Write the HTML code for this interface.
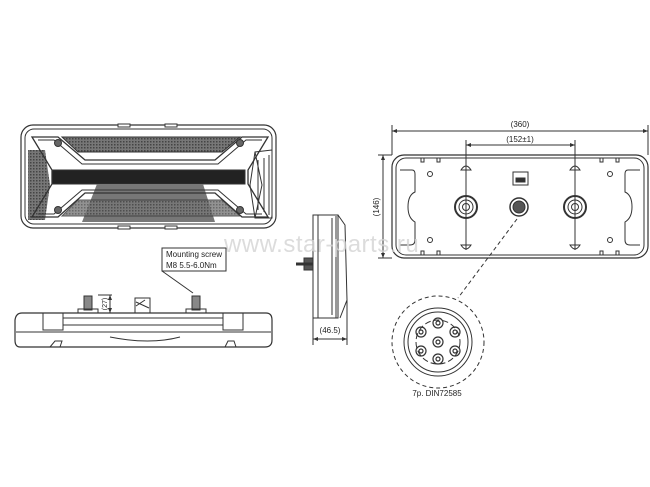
<!DOCTYPE html>
<html><head><meta charset="utf-8"><style>
html,body{margin:0;padding:0;background:#fff;}
svg{display:block;font-family:"Liberation Sans",sans-serif;}
</style></head><body>
<svg width="650" height="487" viewBox="0 0 650 487" xmlns="http://www.w3.org/2000/svg">
<defs>
<pattern id="h" width="3" height="3" patternUnits="userSpaceOnUse"><rect width="3" height="3" fill="#777"/><rect width="1.5" height="1.5" fill="#444"/></pattern>
<marker id="a" markerWidth="6" markerHeight="6" refX="5" refY="3" orient="auto"><path d="M0,1 L5,3 L0,5z" fill="#333"/></marker>
<marker id="b" markerWidth="6" markerHeight="6" refX="1" refY="3" orient="auto"><path d="M6,1 L1,3 L6,5z" fill="#333"/></marker>
</defs>
<g stroke="#333" fill="none" stroke-width="1">
<!-- front view -->
<rect x="21" y="125" width="255" height="103" rx="12" stroke-width="1.2"/>
<rect x="25" y="129" width="247" height="95" rx="9"/>
<rect x="118" y="124" width="12" height="3" fill="#fff"/><rect x="165" y="124" width="12" height="3" fill="#fff"/>
<rect x="118" y="226" width="12" height="3" fill="#fff"/><rect x="165" y="226" width="12" height="3" fill="#fff"/>
<path d="M62,137 L240,137 L222,152 L78,152 Z" fill="url(#h)"/>
<path d="M28,150 L45,150 L50,185 L45,220 L28,220 Z" fill="url(#h)" stroke="none"/>
<path d="M272,150 L255,152 L250,185 L255,218 L272,218 Z" fill="none"/>
<path d="M255,152 L262,185 L255,218 M258,160 L258,210 M264,158 L264,212 M269,155 L269,215"/>
<rect x="52" y="170" width="193" height="14" fill="#222"/>
<path d="M97,184 L203,184 L215,222 L82,222 Z" fill="#777" stroke="none"/>
<path d="M62,216 L240,216 L222,200 L78,200 Z" fill="url(#h)" opacity="0.8"/>
<path d="M32,137 L58,137 L85,160 L215,160 L242,137 L268,137 L248,170 L248,184 L268,217 L242,217 L215,193 L85,193 L58,217 L32,217 L52,184 L52,170 Z" stroke-width="1.3" fill="none"/>
<path d="M38,140 L54,140 L82,164 L218,164 L246,140 L262,140" />
<path d="M38,214 L54,214 L82,190 L218,190 L246,214 L262,214" />
<circle cx="58" cy="143" r="3.5" fill="#666"/><circle cx="240" cy="143" r="3.5" fill="#666"/>
<circle cx="58" cy="210" r="3.5" fill="#666"/><circle cx="240" cy="210" r="3.5" fill="#666"/>
<!-- bottom view -->
<path d="M22,313 L266,313 Q272,313 272,320 L272,340 Q272,347 265,347 L20,347 Q15,347 15,340 L15,320 Q16,313 22,313 Z" stroke-width="1.2"/>
<rect x="43" y="313" width="20" height="17"/><rect x="223" y="313" width="20" height="17"/>
<line x1="63" y1="318" x2="223" y2="318"/><line x1="63" y1="325" x2="223" y2="325"/><line x1="16" y1="332" x2="271" y2="332"/>
<path d="M110,337 Q150,345 180,337"/>
<path d="M50,347 L55,341 L62,341 L60,347 M225,347 L228,341 L234,341 L236,347"/>
<rect x="84" y="296" width="8" height="14" fill="#888"/><path d="M78,313 L78,309 L98,309 L98,313"/>
<rect x="192" y="296" width="8" height="14" fill="#888"/><path d="M186,313 L186,309 L206,309 L206,313"/>
<rect x="135" y="298" width="15" height="15"/><path d="M136,302 L149,308 M136,306 L145,300" />
<line x1="98" y1="295" x2="112" y2="295"/><line x1="98" y1="313" x2="112" y2="313"/>
<line x1="110" y1="295" x2="110" y2="313" marker-start="url(#b)" marker-end="url(#a)"/>
<rect x="162" y="248" width="64" height="23" fill="#fff"/>
<path d="M162,271 L193,293"/>
<!-- side view -->
<rect x="313" y="215" width="25" height="103"/>
<path d="M338,215 L345,225 L347,300 L340,318"/>
<line x1="318" y1="215" x2="318" y2="318"/><line x1="332" y1="218" x2="332" y2="315"/><line x1="336" y1="216" x2="336" y2="318"/>
<rect x="304" y="258" width="9" height="12" fill="#555"/><line x1="296" y1="264" x2="313" y2="264" stroke-width="3"/>
<line x1="313" y1="318" x2="313" y2="345"/><line x1="347" y1="300" x2="347" y2="345"/>
<line x1="313" y1="339" x2="347" y2="339" marker-start="url(#b)" marker-end="url(#a)"/>
<!-- back view -->
<rect x="392" y="155" width="256" height="103" rx="12" stroke-width="1.2"/>
<rect x="396" y="158" width="248" height="97" rx="10"/>
<path d="M400,170 L412,170 Q415,170 415,174 L415,192 Q408,195 408,207 Q408,218 415,222 L415,240 Q415,245 410,245 L400,245"/>
<path d="M640,170 L628,170 Q625,170 625,174 L625,192 Q632,195 632,207 Q632,218 625,222 L625,240 Q625,245 630,245 L640,245"/>
<circle cx="430" cy="174" r="2.5"/><circle cx="430" cy="240" r="2.5"/><circle cx="610" cy="174" r="2.5"/><circle cx="610" cy="240" r="2.5"/>
<line x1="466" y1="165" x2="466" y2="250"/><line x1="575" y1="165" x2="575" y2="250"/>
<path d="M461,170 Q466,162 471,170 Z M461,245 Q466,253 471,245 Z M570,170 Q575,162 580,170 Z M570,245 Q575,253 580,245 Z"/>
<circle cx="466" cy="207" r="11" stroke-width="2"/><circle cx="466" cy="207" r="7"/><circle cx="466" cy="207" r="3.5"/>
<circle cx="575" cy="207" r="11" stroke-width="2"/><circle cx="575" cy="207" r="7"/><circle cx="575" cy="207" r="3.5"/>
<circle cx="519" cy="207" r="9" stroke-width="1.5"/><circle cx="519" cy="207" r="6" fill="#555"/>
<rect x="513" y="172" width="15" height="13"/><rect x="516" y="178" width="9" height="4" fill="#333"/>
<path d="M421,158 v4 h3 v-4 M437,158 v4 h3 v-4 M600,158 v4 h3 v-4 M616,158 v4 h3 v-4 M421,255 v-4 h3 v4 M437,255 v-4 h3 v4 M600,255 v-4 h3 v4 M616,255 v-4 h3 v4" />
<line x1="392" y1="155" x2="392" y2="125"/><line x1="648" y1="155" x2="648" y2="125"/>
<line x1="392" y1="131" x2="648" y2="131" marker-start="url(#b)" marker-end="url(#a)"/>
<line x1="466" y1="140" x2="466" y2="165"/><line x1="575" y1="140" x2="575" y2="165"/>
<line x1="466" y1="145" x2="575" y2="145" marker-start="url(#b)" marker-end="url(#a)"/>
<line x1="378" y1="155" x2="392" y2="155"/><line x1="378" y1="258" x2="392" y2="258"/>
<line x1="383" y1="155" x2="383" y2="258" marker-start="url(#b)" marker-end="url(#a)"/>
<!-- detail -->
<line x1="517" y1="219" x2="458" y2="298" stroke-dasharray="4,3"/>
<circle cx="438" cy="342" r="46" stroke-dasharray="4,3"/>
<circle cx="438" cy="342" r="34"/><circle cx="438" cy="342" r="30"/>
<circle cx="438" cy="342" r="22" stroke-dasharray="6,3"/>
<g stroke-width="1.2">
<circle cx="438" cy="323" r="5"/><circle cx="438" cy="323" r="2"/>
<circle cx="421" cy="332" r="5"/><circle cx="421" cy="332" r="2"/>
<circle cx="455" cy="332" r="5"/><circle cx="455" cy="332" r="2"/>
<circle cx="438" cy="342" r="5"/><circle cx="438" cy="342" r="2"/>
<circle cx="421" cy="351" r="5"/><circle cx="421" cy="351" r="2"/>
<circle cx="455" cy="351" r="5"/><circle cx="455" cy="351" r="2"/>
<circle cx="438" cy="359" r="5"/><circle cx="438" cy="359" r="2"/>
</g>
</g>
<g fill="#222" font-size="8">
<text x="166" y="257">Mounting screw</text>
<text x="166" y="268">M8  5.5-6.0Nm</text>
<text x="330" y="333" text-anchor="middle">(46.5)</text>
<text x="520" y="127" text-anchor="middle">(360)</text>
<text x="520" y="142" text-anchor="middle">(152±1)</text>
<text x="437" y="396" text-anchor="middle">7p. DIN72585</text>
<text transform="translate(379,207) rotate(-90)" text-anchor="middle">(146)</text>
<text transform="translate(107,304) rotate(-90)" text-anchor="middle" font-size="7">(27)</text>
</g>
<text x="224" y="252" font-size="24" fill="#d4d4d4" opacity="0.8" letter-spacing="0.5">www.star-parts.ru</text>
</svg>
</body></html>
